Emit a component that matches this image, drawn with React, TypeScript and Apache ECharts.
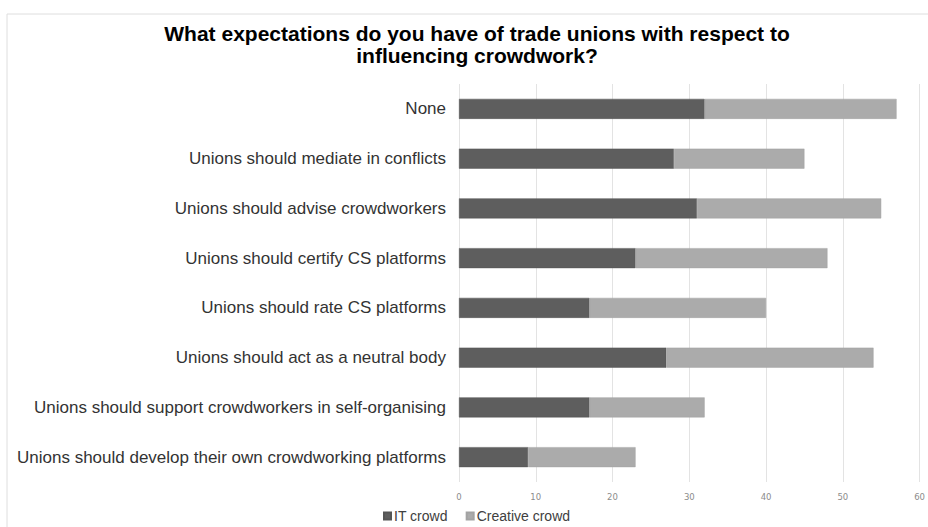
import React, { useEffect, useRef } from "react";
import * as echarts from "echarts";

const categories = [
  "None",
  "Unions should mediate in conflicts",
  "Unions should advise crowdworkers",
  "Unions should certify CS platforms",
  "Unions should rate CS platforms",
  "Unions should act as a neutral body",
  "Unions should support crowdworkers in self-organising",
  "Unions should develop their own crowdworking platforms",
];
const itCrowd = [32, 28, 31, 23, 17, 27, 17, 9];
const creativeCrowd = [25, 17, 24, 25, 23, 27, 15, 14];
const xTicks = [0, 10, 20, 30, 40, 50, 60];

export default function App() {
  const ref = useRef<HTMLDivElement>(null);
  useEffect(() => {
    const chart = echarts.init(ref.current!, null, { renderer: "svg" });
    const cats = [...categories].reverse();
    const it = [...itCrowd].reverse();
    const cr = [...creativeCrowd].reverse();
    chart.setOption({
      animation: false,
      backgroundColor: "#ffffff",
      graphic: [
        {
          type: "rect",
          shape: { x: 7, y: 14, width: 940, height: 540 },
          style: { fill: "none", stroke: "#dedede", lineWidth: 1 },
          silent: true,
        },
      ],
      title: {
        text: "What expectations do you have of trade unions with respect to\ninfluencing crowdwork?",
        left: 472,
        top: 17,
        textAlign: "center",
        textStyle: {
          fontFamily: "Liberation Sans, Arial, sans-serif",
          fontWeight: "bold",
          fontSize: 21,
          lineHeight: 22,
          color: "#000000",
        },
      },
      legend: {
        data: ["IT crowd", "Creative crowd"],
        left: 378,
        top: 504,
        itemWidth: 7,
        itemHeight: 7,
        itemGap: 18,
        icon: "rect",
        textStyle: {
          fontFamily: "Liberation Sans, Arial, sans-serif",
          fontSize: 14,
          color: "#404040",
          padding: [0, 0, 0, -2],
        },
      },
      grid: { left: 459, right: 4, top: 84, bottom: 45, containLabel: false },
      xAxis: {
        type: "value",
        min: xTicks[0],
        max: xTicks[xTicks.length - 1],
        interval: 10,
        axisLine: { show: false },
        axisTick: { show: false },
        splitLine: { show: true, lineStyle: { color: "#e3e3e3", width: 1 } },
        axisLabel: {
          fontFamily: "DejaVu Sans, sans-serif",
          fontSize: 8.5,
          color: "#8c8c8c",
          margin: 10,
        },
      },
      yAxis: {
        type: "category",
        data: cats,
        axisLine: { show: false },
        axisTick: { show: false },
        axisLabel: {
          fontFamily: "Liberation Sans, Arial, sans-serif",
          fontSize: 17,
          color: "#333333",
          margin: 13,
        },
      },
      series: [
        {
          name: "IT crowd",
          type: "bar",
          stack: "total",
          data: it,
          barWidth: 20,
          itemStyle: { color: "#5e5e5e", borderColor: "#555555", borderWidth: 0.5 },
        },
        {
          name: "Creative crowd",
          type: "bar",
          stack: "total",
          data: cr,
          barWidth: 20,
          itemStyle: { color: "#ababab", borderColor: "#a3a3a3", borderWidth: 0.5 },
        },
      ],
    });
    return () => chart.dispose();
  }, []);
  return (
    <div
      ref={ref}
      style={{ position: "fixed", left: 0, top: 0, width: 928, height: 527 }}
    />
  );
}
